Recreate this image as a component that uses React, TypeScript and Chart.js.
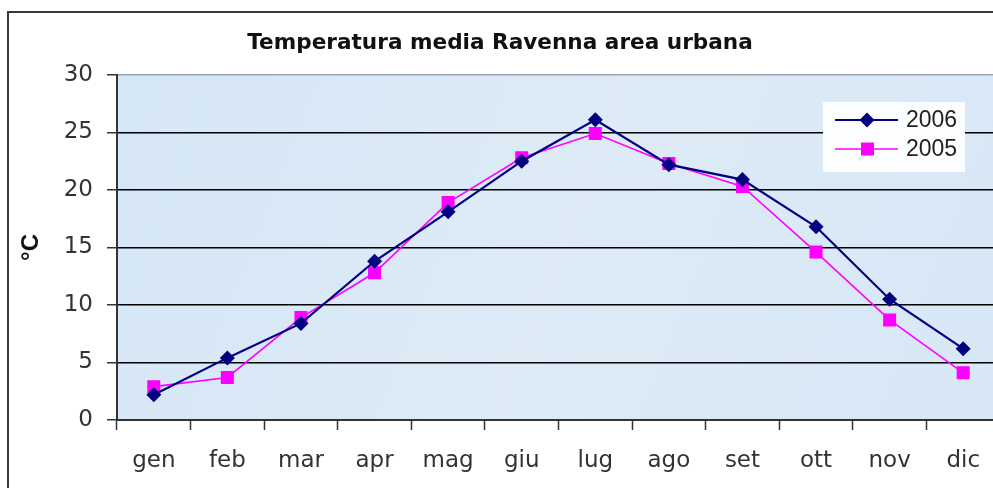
import React, { useEffect, useRef } from "react";
import { Chart, registerables } from "chart.js";

Chart.register(...registerables);

const TITLE = "Temperatura media Ravenna area urbana";
const Y_TITLE = "°C";
const MONTHS = ["gen", "feb", "mar", "apr", "mag", "giu", "lug", "ago", "set", "ott", "nov", "dic"];
const SERIES_2006 = [2.2, 5.4, 8.4, 13.8, 18.1, 22.5, 26.1, 22.2, 20.9, 16.8, 10.5, 6.2];
const SERIES_2005 = [2.9, 3.7, 8.9, 12.8, 18.9, 22.8, 24.9, 22.3, 20.3, 14.6, 8.7, 4.1];
const LABEL_2006 = "2006";
const LABEL_2005 = "2005";
const Y_MIN = 0;
const Y_MAX = 30;
const Y_STEP = 5;

const FONT = "'Liberation Sans', Arial, sans-serif";
const WIDE_FONT = "'DejaVu Sans', 'Liberation Sans', sans-serif";
const NAVY = "#000080";
const MAGENTA = "#ff00ff";

const plotBg = {
  id: "plotBg",
  beforeDraw(chart: any) {
    const { ctx, chartArea } = chart;
    const { left, top, right, bottom } = chartArea;
    ctx.save();
    const g = ctx.createLinearGradient(left, top, right, bottom);
    g.addColorStop(0, "#d5e6f6");
    g.addColorStop(0.5, "#deebf7");
    g.addColorStop(1, "#d7e7f6");
    ctx.fillStyle = g;
    ctx.fillRect(left, top, right - left, bottom - top);
    ctx.restore();
  },
};

const boxLegend = {
  id: "boxLegend",
  afterDraw(chart: any) {
    const { ctx } = chart;
    const x0 = 823, y0 = 102, w = 142, h = 70;
    ctx.save();
    ctx.fillStyle = "#fbfdff";
    ctx.fillRect(x0, y0, w, h);
    const items = [
      { label: chart.data.datasets[0].label, color: NAVY, shape: "diamond", y: 120, lw: 2 },
      { label: chart.data.datasets[1].label, color: MAGENTA, shape: "square", y: 149, lw: 1.5 },
    ];
    for (const it of items) {
      ctx.strokeStyle = it.color;
      ctx.lineWidth = it.lw;
      ctx.beginPath();
      ctx.moveTo(835, it.y);
      ctx.lineTo(898, it.y);
      ctx.stroke();
      ctx.fillStyle = it.color;
      ctx.beginPath();
      if (it.shape === "diamond") {
        ctx.moveTo(867, it.y - 7.5);
        ctx.lineTo(874.5, it.y);
        ctx.lineTo(867, it.y + 7.5);
        ctx.lineTo(859.5, it.y);
        ctx.closePath();
      } else {
        ctx.rect(861, it.y - 6.5, 13, 13);
      }
      ctx.fill();
      ctx.fillStyle = "#222";
      ctx.font = `23px ${FONT}`;
      ctx.textBaseline = "middle";
      ctx.textAlign = "left";
      ctx.fillText(it.label, 906, it.y + 1);
    }
    ctx.restore();
  },
};

export default function App() {
  const ref = useRef<HTMLCanvasElement | null>(null);

  useEffect(() => {
    if (!ref.current) return;
    Chart.defaults.font.family = FONT;
    const chart = new Chart(ref.current, {
      type: "line",
      data: {
        labels: MONTHS,
        datasets: [
          {
            label: LABEL_2006,
            data: SERIES_2006,
            borderColor: NAVY,
            backgroundColor: NAVY,
            borderWidth: 2.2,
            pointStyle: "rectRot",
            pointRadius: 7.5,
            pointBorderWidth: 0,
            tension: 0,
          },
          {
            label: LABEL_2005,
            data: SERIES_2005,
            borderColor: MAGENTA,
            backgroundColor: MAGENTA,
            borderWidth: 1.6,
            pointStyle: "rect",
            pointRadius: 9.2,
            pointBorderWidth: 0,
            tension: 0,
          },
        ],
      },
      options: {
        responsive: false,
        animation: false,
        devicePixelRatio: 1,
        layout: { padding: { left: 0, right: 12, top: 0, bottom: 0 } },
        plugins: {
          legend: { display: false },
          tooltip: { enabled: false },
          title: {
            display: true,
            text: TITLE,
            color: "#111",
            font: { size: 21.6, weight: "bold", family: WIDE_FONT },
            padding: { top: 30, bottom: 19 },
          },
        },
        scales: {
          x: {
            type: "category",
            offset: true,
            afterFit(scale: any) {
              scale.height = 68;
            },
            grid: {
              display: true,
              drawOnChartArea: false,
              drawTicks: true,
              offset: true,
              tickLength: 10,
              tickColor: "#333",
              tickWidth: 1.5,
            },
            border: { display: true, color: "#333", width: 2 },
            ticks: {
              color: "#333",
              font: { size: 23, family: WIDE_FONT },
              padding: 17,
              maxRotation: 0,
              autoSkip: false,
            },
          },
          y: {
            min: Y_MIN,
            max: Y_MAX,
            afterFit(scale: any) {
              scale.width = 117;
            },
            grid: {
              color: (c: any) => (c.tick && c.tick.value === Y_MAX ? "#9aa6b2" : "#000"),
              lineWidth: 1.5,
              tickLength: 10,
              tickColor: "#333",
              tickWidth: 1.5,
            },
            border: { display: true, color: "#333", width: 2 },
            ticks: {
              stepSize: Y_STEP,
              color: "#333",
              font: { size: 23, family: WIDE_FONT },
              padding: 14,
            },
            title: {
              display: true,
              text: Y_TITLE,
              color: "#111",
              font: { size: 24, weight: "bold", family: FONT },
              padding: { top: 17, bottom: 0 },
            },
          },
        },
      },
      plugins: [plotBg, boxLegend],
    });
    return () => chart.destroy();
  }, []);

  return (
    <div
      style={{
        position: "fixed",
        left: 0,
        top: 0,
        width: 993,
        height: 488,
        overflow: "hidden",
        background: "#fff",
      }}
    >
      <div
        style={{
          position: "absolute",
          left: 7,
          top: 11,
          width: 1200,
          height: 700,
          borderLeft: "2px solid #3a3a3a",
          borderTop: "2px solid #3a3a3a",
        }}
      />
      <canvas
        ref={ref}
        width={1012}
        height={488}
        style={{ position: "absolute", left: 0, top: 0, width: 1012, height: 488 }}
      />
    </div>
  );
}
